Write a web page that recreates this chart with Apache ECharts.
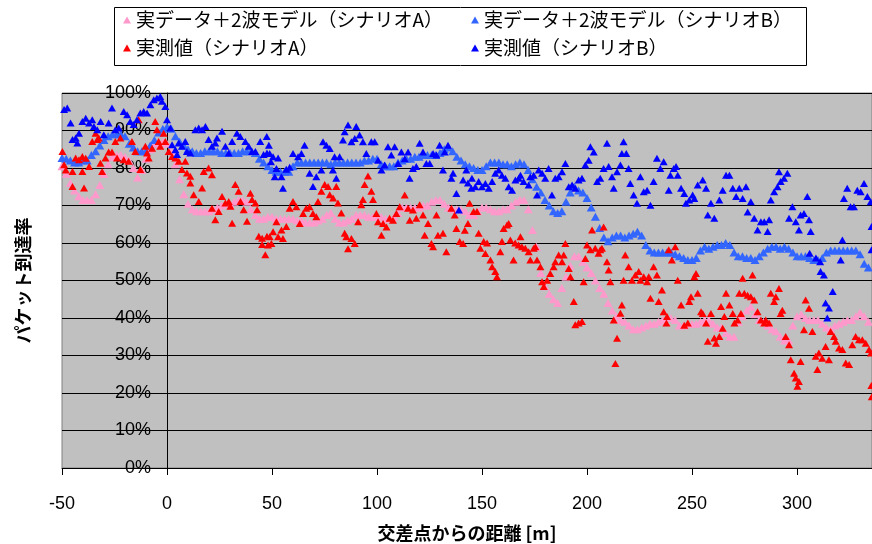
<!DOCTYPE html>
<html>
<head>
<meta charset="utf-8">
<script src="https://cdn.jsdelivr.net/npm/echarts@6/dist/echarts.min.js"></script>
<style>
  html, body { margin: 0; padding: 0; background: #fff; }
  #chart { width: 872px; height: 544px; }
</style>
</head>
<body>
<div id="chart"></div>
<script>
// series names (legend order)
const names = ['実データ＋2波モデル（シナリオA）', '実データ＋2波モデル（シナリオB）', '実測値（シナリオA）', '実測値（シナリオB）']

// model curves, [distance m, arrival %]
const modelA = [[-50,80.5],[-48,78.5],[-46,76],[-44,74],[-42,72.5],[-40,71.5],[-38,71.5],[-36,71.5],[-34,73],[-32,75.5],[-30,78.5],[-28,81],[-26,83],[-24,83.5],[-22,83.5],[-20,83],[-18,82],[-16,80],[-14,77.5],[-12,79.5],[-10,82.5],[-8,85],[-6,86.5],[-4,87],[-2,87],[0,86.5],[2,84.5],[4,81],[6,77],[8,73],[10,70.5],[12,69],[14,68.5],[16,68.5],[18,68.5],[20,68.5],[22,69],[24,69.5],[26,70],[28,70.5],[30,70.5],[32,71],[34,71.5],[36,71.5],[38,71],[40,69],[42,67.5],[44,66.5],[46,66.5],[48,67],[50,67],[52,66.5],[54,66.5],[56,66.5],[58,66.5],[60,66.5],[62,66],[64,66],[66,65.5],[68,65.5],[70,65.5],[72,66],[74,66.5],[76,67.5],[78,68],[80,66.5],[82,65.5],[84,65.5],[86,66],[88,66.5],[90,67.5],[92,67.5],[94,67.5],[96,67],[98,67],[100,67],[102,67],[104,66.5],[106,66.5],[108,67],[110,68],[112,69.5],[114,69.5],[116,69.5],[118,69.5],[120,69.5],[122,70],[124,70],[126,71],[128,71.5],[130,71.5],[132,70.5],[134,69.5],[136,69],[138,69],[140,69],[142,68.5],[144,67.5],[146,67.5],[148,68.5],[150,69.5],[152,69.5],[154,69],[156,68.5],[158,68.5],[160,69],[162,69],[164,70],[166,71],[168,71.5],[170,71.5],[172,69],[174,63.5],[176,59],[178,52],[180,48.5],[182,46.5],[184,45],[186,44],[188,48],[190,51],[192,54],[194,56.5],[196,56.5],[198,55],[200,53.5],[202,52],[204,50],[206,48],[208,46.5],[210,44],[212,42],[214,40.5],[216,39.5],[218,39],[220,38],[222,37],[224,37],[226,37.5],[228,38],[230,38.5],[232,38.5],[234,39],[236,39.5],[238,40],[240,40],[242,39.5],[244,38],[246,38],[248,38.5],[250,38.5],[252,38.5],[254,39],[256,39.5],[258,39.5],[260,38.5],[262,37.5],[264,37.5],[266,36],[268,35],[270,35],[272,39],[274,40.5],[276,42],[278,43],[280,41],[282,39.5],[284,39],[286,38],[288,37],[290,36.5],[292,35],[294,34],[296,34],[298,38],[300,40.5],[302,41],[304,40],[306,39.5],[308,39.5],[310,39.5],[312,38.5],[314,37.5],[316,37],[318,38],[320,38.5],[322,39],[324,39.5],[326,39.5],[328,40.5],[330,41.5],[332,40.5],[334,39],[336,38]]

const modelB = [[-50,82.7],[-48,82.5],[-46,82],[-44,81.5],[-42,81.5],[-40,82],[-38,82],[-36,83.5],[-34,84.5],[-32,86],[-30,87.5],[-28,88.5],[-26,89],[-24,89],[-22,89],[-20,88.5],[-18,86.5],[-16,85.5],[-14,84.5],[-12,84.5],[-10,84.5],[-8,86],[-6,87.5],[-4,89.5],[-2,90.5],[0,91],[2,90.5],[4,88.5],[6,87],[8,86],[10,85],[12,84.5],[14,84],[16,84],[18,84.5],[20,84.5],[22,84.5],[24,84.5],[26,84],[28,84],[30,84],[32,84],[34,84],[36,84.5],[38,84.5],[40,84.5],[42,84],[44,82.5],[46,81.5],[48,80.5],[50,79.5],[52,79],[54,79],[56,79],[58,79],[60,80.5],[62,81.5],[64,81.5],[66,81.5],[68,81.5],[70,81.5],[72,81.5],[74,81.5],[76,81.5],[78,81],[80,81.5],[82,81.5],[84,81.5],[86,81.5],[88,81.5],[90,81.5],[92,81.5],[94,82],[96,82],[98,82.5],[100,82.5],[102,81],[104,80.5],[106,80.5],[108,80.5],[110,81.5],[112,82],[114,82.5],[116,82.5],[118,83],[120,83],[122,83.5],[124,83.5],[126,83.5],[128,83.5],[130,84],[132,85],[134,85.5],[136,84.5],[138,83],[140,82],[142,81],[144,80.5],[146,80],[148,79.5],[150,79.5],[152,80.5],[154,81.5],[156,81.5],[158,81.5],[160,81],[162,81],[164,80.5],[166,81],[168,81.5],[170,81],[172,79.5],[174,77],[176,75],[178,73.5],[180,71.5],[182,70],[184,68.5],[186,68],[188,68.5],[190,71],[192,73.5],[194,75],[196,74],[198,73.5],[200,72],[202,69.5],[204,67],[206,64],[208,61.5],[210,60.5],[212,61.5],[214,62],[216,62],[218,61.5],[220,62],[222,62.5],[224,63],[226,62],[228,59.5],[230,58],[232,57.5],[234,57.5],[236,57.5],[238,57.5],[240,57.5],[242,57],[244,56.5],[246,56],[248,55.5],[250,55.5],[252,56],[254,58],[256,59],[258,58.5],[260,59],[262,59.5],[264,59.5],[266,60],[268,59.5],[270,57.5],[272,56.5],[274,56.5],[276,56],[278,56],[280,55.5],[282,56.5],[284,57.5],[286,58.5],[288,59],[290,59],[292,58.5],[294,59],[296,58.5],[298,57.5],[300,56.5],[302,56.5],[304,56.5],[306,56],[308,55.5],[310,55.5],[312,56],[314,57.5],[316,58],[318,58],[320,58],[322,58],[324,58],[326,58],[328,58],[330,57],[332,54.5],[334,53.5],[336,53]]

// measured points
const measA = [[-49.8,84.4],[-49,80.9],[-48.2,79.5],[-45,79.1],[-45,75.1],[-43.5,82.7],[-41.9,82.2],[-40.3,83.1],[-39.5,74.7],[-38.7,82.6],[-40.3,79.1],[-37.1,80.4],[-35.6,87.1],[-34,89.3],[-33.2,87.6],[-32.5,88],[-31.7,81.3],[-30.9,79.1],[-29.3,82.7],[-27.8,84.3],[-26.2,84.3],[-24.6,87.1],[-23.8,82.7],[-22.2,88],[-20.6,82.2],[-18.3,81.8],[-16.7,87.1],[-15.1,84.4],[-13.5,92.9],[-12.7,79.6],[-10.3,85.8],[-9.5,84],[-8.7,82.7],[-7.1,85.3],[-5.6,92.4],[-4.8,90.2],[-4,87.1],[-3.2,85.8],[-1.6,89.3],[-0.8,87.1],[0.8,84.4],[2.4,83.1],[4,82.7],[5.6,81.8],[7.1,79.6],[8.7,81.8],[9.5,78.7],[11.1,77.8],[11.1,76],[12.7,72.9],[15.1,71.1],[16.7,74.7],[17.5,79.1],[19.8,80],[21.4,78.2],[21.4,69.3],[23,66.2],[24.6,68.4],[26.2,72.4],[27.8,70.7],[29.4,71.1],[30.2,69.8],[31,65.3],[32.5,75.6],[34.1,73.8],[35,71.1],[36.5,68.9],[38.1,65.8],[39.7,73.3],[40.5,71.6],[42.1,70.7],[42.9,68.9],[43.7,61.8],[45.3,61.3],[45.3,59.6],[46.8,56.9],[47.6,61.8],[48.1,59.5],[48.9,61.7],[49.7,59.9],[50.5,63],[52.1,65.7],[52.9,61.7],[54.5,63.5],[55.2,61.2],[56.8,64.4],[58.4,69.3],[60,71.1],[61.6,69.7],[63.2,65.2],[64.8,67.9],[66.3,69.3],[67.9,69.7],[69.5,67.9],[71.1,67],[71.9,71.1],[73.5,73.8],[75.1,75.6],[76.7,75.1],[77.5,72.9],[79.1,72],[80.6,75.1],[81.4,70.7],[83,68],[84.6,62.6],[85.4,61.7],[86.2,58.5],[87.8,61.2],[89.4,59.9],[91,65.7],[92.5,70.2],[93.3,71.6],[94.1,75.6],[95.7,77.9],[97.3,73.8],[98.1,71.6],[99.7,67.9],[100.5,65.7],[102.1,62.1],[102.9,65.2],[104.5,64.3],[106,66.6],[107.6,66.1],[109.2,67.9],[110.8,69.7],[113.2,72.8],[114.8,69.3],[115.6,66.1],[117.1,68.8],[118.7,66.6],[120.3,70.2],[121.9,67.5],[122.7,62.1],[124.3,65.2],[125.9,59.9],[126.7,59],[128.3,67.5],[129,62.1],[131.4,62.6],[133,57.7],[135.4,69.3],[137,67.5],[137.8,63.9],[139.4,60.4],[141,59.9],[141.8,63.4],[143.3,65.2],[144.1,70.6],[146,68.4],[147.6,68.4],[148.4,62.6],[149.2,58.6],[150.8,60.4],[151.6,57.2],[152.4,60],[154,55.5],[154.8,53.7],[156.3,52.4],[157.1,51],[158.7,57.7],[159.5,60.4],[160.3,63.9],[161.9,64.8],[162.7,65.2],[163.5,60.8],[165,55.5],[165.8,60],[167.4,59.5],[168.3,61.7],[169,59],[170.6,58.6],[172.2,57.7],[173,55.5],[174.6,58.6],[175.4,59],[176.2,55.5],[177.8,53.7],[178.6,49.7],[179.4,48.4],[181,50.1],[182.5,51.9],[184.1,53.7],[184.9,55],[186.5,56.8],[188.1,55],[188.9,56.8],[189.7,59.9],[191.3,53.2],[192.1,51],[193.7,44.4],[194.4,38.2],[196,38.7],[197.6,39.1],[198.4,49.7],[199.2,55.9],[200,59.5],[201.6,58.2],[202.4,63.5],[203.9,58.6],[205.5,57.3],[206.3,58.2],[207.1,58.6],[207.9,64.3],[209.5,55],[210.3,52.8],[211.1,49.7],[212.7,39.5],[214.3,34.6],[213.5,27.9],[215.9,41.3],[216.6,43.5],[218.2,56.8],[219.8,53.7],[217.4,50.1],[221.4,50.1],[223,51.5],[224.6,52.4],[225.4,50.1],[227,51],[228.6,49.7],[229.4,51],[230.2,45.3],[231.7,53.7],[233.3,51.5],[234.1,44.4],[235.7,47.5],[236.5,41.7],[238.1,40.4],[238.9,58.2],[237.8,38.7],[240.4,55.5],[242,59],[243.2,50.1],[244.8,43.5],[246.3,38.1],[248,38.7],[248.7,44.4],[249.5,45.7],[251.1,51],[251.9,51.9],[252.7,46.6],[254.3,41.7],[255.1,41.2],[256.7,38.7],[257.5,33.8],[259,41.2],[260.6,34.7],[261.4,33.3],[263,35.1],[263.8,43.1],[264.6,37.3],[265.4,40.4],[266.2,46.6],[267.8,43.5],[269.4,41.2],[270.2,38.7],[271.7,39.5],[272.5,46.6],[274.1,50.6],[273.3,41.2],[274.9,46.6],[276.5,46.1],[278,45.7],[278.8,51.5],[279.6,44.8],[281.2,41.7],[282.8,39.5],[284.4,38.7],[285.1,39.5],[286.7,38.7],[287.5,46.6],[289.1,44.4],[289.9,45.7],[291.4,47.9],[292.2,41.2],[293,42.1],[294.6,35.1],[296.2,32.9],[297,28.9],[298.6,25.3],[299.4,24],[300.2,21.8],[300.9,23.1],[301.7,28.4],[303.3,36.9],[304.1,44.8],[305.7,42.6],[307.3,36.4],[308.9,29.8],[309.7,26.3],[310.4,30.7],[312,29.3],[313.6,32.4],[315.2,28.9],[316,36.4],[317.6,35.1],[318.4,33.8],[320,32],[321.6,31.6],[323.2,28],[324.8,27.6],[326.3,32.9],[327.9,35.1],[329.5,34.2],[331.1,34.2],[332.7,33.3],[334.3,31.6],[335.2,30.7],[335.4,22],[335.6,19]]

const measB = [[-49,95.6],[-47.5,96],[-45.9,92],[-45,87.6],[-43.5,88],[-42.7,86.7],[-41.9,89.3],[-40.3,92.4],[-38.7,93.3],[-37.1,92],[-35.6,92.9],[-34.8,91.1],[-33.2,90.2],[-31.6,92.4],[-30.1,88.9],[-27.8,92],[-26.2,96],[-24.6,90.2],[-23,90.7],[-20.6,95.1],[-19,94.2],[-17.5,92.4],[-15.9,91.6],[-14.3,92.9],[-12.7,94.7],[-11.1,95.1],[-9.5,94.7],[-7.9,96.9],[-6.3,98.2],[-4.8,98.7],[-3.2,99.1],[-2.4,97.8],[-0.8,96.4],[0,92.9],[1.6,90.7],[2.4,86.2],[4,84.9],[4.8,83.6],[5.6,86.7],[7.1,85.8],[8.7,87.1],[9.5,84.4],[11.1,84],[13.5,90.2],[15.1,90.7],[16.7,90.2],[18.3,91.1],[19.8,87.6],[21.4,85.8],[23,86.7],[23.8,88],[26.2,89.8],[27.8,85.8],[29.4,84],[31,87.1],[33.3,89.3],[34.9,88.4],[37.3,87.1],[38.9,85.8],[40.5,84.4],[42.1,84.4],[44.4,87.1],[46,83.6],[47.6,84],[47.5,88.4],[48.5,86.1],[48.9,83.9],[49.5,81.7],[50.5,83],[52.1,79.9],[52.9,82.7],[51.3,77.7],[54.5,77.7],[55.2,74.6],[56.8,79.7],[58.4,80.2],[60,83.9],[62.4,83],[64,83.9],[65.5,86.1],[67.9,78.6],[69.5,75.1],[71.1,77.7],[73.5,79.5],[74.3,87],[75.9,86.1],[77.5,85.2],[79,79.5],[80.6,77.3],[79.8,83],[82.2,83],[83.8,87.5],[84.6,89.7],[86.2,91.5],[87.8,87],[89.4,87.9],[90.1,91.1],[91.7,88.8],[93.3,87],[94.9,83.9],[97.3,87],[98.9,87],[100.5,82.1],[102.1,79.5],[103.6,80.8],[105.2,85.7],[106.8,83.5],[108.4,85.7],[110,81.2],[111.6,84.3],[113.2,82.5],[114.8,84.3],[115.5,77.3],[117.1,79.9],[118.7,80.4],[120.3,86.6],[121.9,84.3],[123.5,81.2],[125.1,81.2],[126.7,83.9],[128.3,83.5],[129.8,86.1],[132.2,84.3],[133.8,86.1],[131.4,79.5],[135.4,77.3],[136.2,78.6],[137.8,73.2],[139,68.8],[141,76.8],[142.5,79.5],[143.3,76],[144.9,74.6],[145.2,77.3],[146.8,75],[148.4,76.4],[150,75],[151.6,75.9],[153.2,74.6],[154.8,76.4],[156.3,78.6],[157.9,79.5],[159.5,78.1],[161.1,77.3],[162.7,75],[164.3,74.1],[165.9,76.8],[167.5,77.3],[168.3,78.1],[169.8,76.4],[172.2,75.5],[173,77.7],[174.6,78.1],[176.2,72.8],[177,79.5],[178.6,78.6],[180.1,77.3],[181.7,79.9],[183.3,72.8],[184.9,77.3],[186.5,77.7],[188.1,79],[189.7,81.2],[191.3,75],[192.9,75.5],[194.4,74.6],[196,76.8],[197.6,77.3],[199.2,80.8],[200.8,82.1],[201.6,85.7],[203.2,84.3],[204.8,76.4],[206.3,77.3],[207.9,79.9],[209.5,86.6],[210.3,80.4],[211.9,77.7],[212.7,74.6],[214.3,79],[215.9,80.8],[216.6,83.9],[217.4,87],[218.7,83.9],[219.8,79.9],[220.6,75.9],[222.2,72.8],[223.8,70.6],[225.4,77.7],[227,73.7],[228.6,74.1],[230.2,70.1],[231.7,76.4],[233.3,82.6],[234.9,79.9],[236.5,81.7],[238.9,74.1],[239.7,78.1],[241.3,79.9],[242.4,80.4],[243.2,78.1],[244.8,74.6],[246.3,73.2],[247.1,70.6],[248.7,71.5],[250.3,72.8],[251.1,71.9],[252.7,75.5],[255.1,76.8],[256.7,74.6],[257.5,67.5],[259,70.6],[260.6,66.6],[263,71.5],[264.6,74.1],[266.2,78.1],[267.8,78.1],[269.4,74.6],[271,72.4],[272.5,74.6],[274.1,71.9],[275.7,75],[276.5,68.3],[278,71],[279.6,66.6],[281.2,63.5],[282.8,65.7],[284.4,65.7],[286,63.1],[286.7,66.2],[287.5,71.5],[289.1,73.7],[290.7,75],[291.4,79],[292.2,76.4],[293.8,77.3],[295.4,78.6],[296.2,66.6],[297.8,69.7],[299.4,65.7],[300.9,63.5],[301.7,67.5],[303.3,67.9],[304.9,72.4],[305.7,66.2],[306.5,63.1],[306,57.3],[309,56],[311,55],[311.2,52.4],[312.8,51.5],[313.6,44],[315.2,42.7],[314.4,40],[317,47.1],[321.6,60.8],[320.8,55.5],[322.3,71.9],[323.9,74.6],[325.5,69.7],[327.1,69.7],[328.7,74.1],[330.3,73.7],[331.9,75.9],[333.5,72.4],[335.1,71],[335.5,64.4],[335.5,58.2]]

const colors = ['#FF99CC', '#3366FF', '#FF0000', '#0000FF']
const seriesData = [modelA, modelB, measA, measB]
// model curves are drawn a little larger so they read as a band
const markSizes = [[9, 8], [9, 8], [8, 7], [8, 7]]

const jp = "'Noto Sans CJK JP', sans-serif"
const num = "'Liberation Sans', Arial, sans-serif"

var myChart = echarts.init(document.getElementById('chart'))

const legendBase = {
  orient: 'vertical',
  top: 10,
  padding: 0,
  itemGap: 8,
  itemWidth: 8,
  itemHeight: 7,
  icon: 'triangle',
  textStyle: { fontFamily: jp, fontSize: 19, lineHeight: 20, color: '#000' }
}

// the value axis crosses at x = 0, i.e. 105px right of the plot's left edge
const yAxisShift = -105

myChart.setOption({
  animation: false,
  legend: [
    Object.assign({ left: 123, data: [names[0], names[2]] }, legendBase),
    Object.assign({ left: 471, data: [names[1], names[3]] }, legendBase)
  ],
  graphic: [{
    type: 'rect',
    shape: { x: 114.5, y: 7.5, width: 692, height: 58 },
    style: { fill: 'none', stroke: '#000', lineWidth: 1 },
    z: -1
  }],
  grid: {
    left: 62, top: 93, right: 0, bottom: 76,
    containLabel: false,
    outerBoundsMode: 'none',
    show: true,
    backgroundColor: '#C0C0C0',
    borderColor: '#808080',
    borderWidth: 1
  },
  xAxis: {
    type: 'value',
    min: -50,
    max: 335.7,
    interval: 50,
    name: '交差点からの距離 [m]',
    nameLocation: 'middle',
    nameGap: 56,
    nameTextStyle: { fontFamily: jp, fontSize: 18, fontWeight: 'bold', color: '#000' },
    axisLine: { onZero: false, lineStyle: { color: '#000' } },
    axisTick: { length: 7, lineStyle: { color: '#000' } },
    axisLabel: { fontFamily: num, fontSize: 18, color: '#000', margin: 27, showMaxLabel: false },
    splitLine: { show: false }
  },
  yAxis: {
    type: 'value',
    min: 0,
    max: 100,
    interval: 10,
    offset: yAxisShift,
    name: 'パケット到達率',
    nameLocation: 'middle',
    nameRotate: 90,
    nameGap: 135,
    nameTextStyle: { fontFamily: jp, fontSize: 18, fontWeight: 'bold', color: '#000' },
    axisLine: { show: true, onZero: false, lineStyle: { color: '#000' } },
    axisTick: { show: true, length: 6, lineStyle: { color: '#000' } },
    axisLabel: { fontFamily: num, fontSize: 18, color: '#000', margin: 16, formatter: '{value}%' },
    splitLine: { lineStyle: { color: '#000', width: 1 } }
  },
  series: seriesData.map((d, i) => ({
    name: names[i],
    type: 'scatter',
    data: d,
    symbol: 'triangle',
    symbolSize: markSizes[i],
    itemStyle: { color: colors[i], opacity: 1 }
  }))
})
</script>
</body>
</html>
